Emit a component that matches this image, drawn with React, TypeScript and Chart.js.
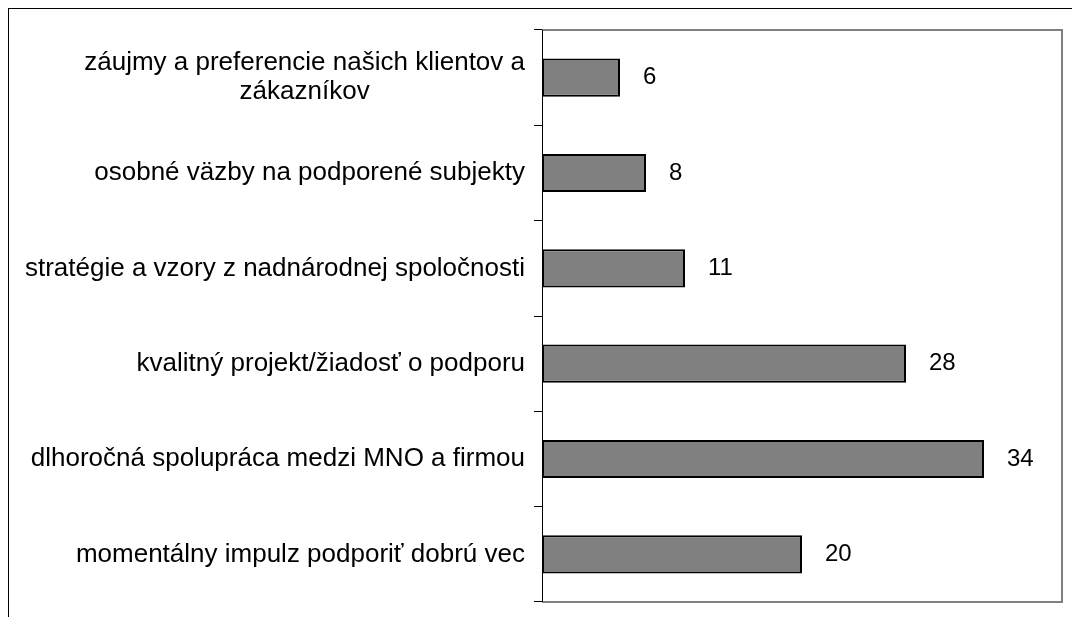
import React, { useEffect, useRef } from "react";
import { Chart, registerables } from "chart.js";

Chart.register(...registerables);

const categories: string[][] = [
  ["záujmy a preferencie našich klientov a", "zákazníkov"],
  ["osobné väzby na podporené subjekty"],
  ["stratégie a vzory z nadnárodnej spoločnosti"],
  ["kvalitný projekt/žiadosť o podporu"],
  ["dlhoročná spolupráca medzi MNO a firmou"],
  ["momentálny impulz podporiť dobrú vec"],
];
const values: number[] = [6, 8, 11, 28, 34, 20];
const axisMax = 40;

const FONT = '"Liberation Sans", Arial, sans-serif';

const decorPlugin = {
  id: "decor",
  afterDraw(chart: any) {
    const ctx = chart.ctx;
    const area = chart.chartArea;
    const yScale = chart.scales.y;
    ctx.save();
    // plot border (gray)
    ctx.strokeStyle = "#808080";
    ctx.lineWidth = 2;
    ctx.beginPath();
    ctx.moveTo(area.left, area.top);
    ctx.lineTo(area.right, area.top);
    ctx.lineTo(area.right, area.bottom);
    ctx.lineTo(area.left, area.bottom);
    ctx.stroke();
    // left axis (black)
    ctx.strokeStyle = "#000000";
    ctx.lineWidth = 1;
    ctx.beginPath();
    ctx.moveTo(area.left + 0.5, area.top);
    ctx.lineTo(area.left + 0.5, area.bottom);
    ctx.stroke();

    // category labels
    ctx.fillStyle = "#000000";
    ctx.font = `26px ${FONT}`;
    ctx.textAlign = "center";
    ctx.textBaseline = "middle";
    const lineH = 29;
    categories.forEach((lines, i) => {
      const y = yScale.getPixelForValue(i);
      const w = Math.max(...lines.map((l) => ctx.measureText(l).width));
      const right = area.left - 17;
      const cx = right - w / 2;
      const y0 = y - ((lines.length - 1) * lineH) / 2;
      lines.forEach((l, j) => ctx.fillText(l, cx, y0 + j * lineH));
    });

    // value labels
    ctx.font = `24px ${FONT}`;
    ctx.textAlign = "left";
    const meta = chart.getDatasetMeta(0);
    meta.data.forEach((bar: any, i: number) => {
      ctx.fillText(String(values[i]), bar.x + 23, bar.y);
    });
    ctx.restore();
  },
};

export default function App() {
  const ref = useRef<HTMLCanvasElement>(null);
  useEffect(() => {
    if (!ref.current) return;
    const chart = new Chart(ref.current, {
      type: "bar",
      data: {
        labels: categories.map((c) => c.join(" ")),
        datasets: [
          {
            data: values,
            backgroundColor: "#808080",
            borderColor: "#000000",
            borderWidth: 2,
            borderSkipped: false,
            barPercentage: 0.4,
            categoryPercentage: 1,
          },
        ],
      },
      options: {
        indexAxis: "y",
        animation: false,
        responsive: false,
        devicePixelRatio: 1,
        layout: { padding: { left: 525, top: 21, right: 18, bottom: 15 } },
        plugins: { legend: { display: false }, tooltip: { enabled: false } },
        scales: {
          x: { display: false, min: 0, max: axisMax },
          y: {
            offset: true,
            grid: {
              offset: true,
              drawOnChartArea: false,
              drawTicks: true,
              tickLength: 8,
              color: "#000000",
              lineWidth: 1,
            },
            border: { display: true, color: "#000000", width: 1 },
            ticks: { display: false },
          },
        },
      },
      plugins: [decorPlugin],
    });
    return () => chart.destroy();
  }, []);
  return (
    <div
      style={{
        borderTop: "1px solid #000",
        borderLeft: "1px solid #000",
        width: 1071,
        height: 608,
        background: "#fff",
      }}
    >
      <canvas ref={ref} width={1071} height={608} style={{ display: "block" }} />
    </div>
  );
}
